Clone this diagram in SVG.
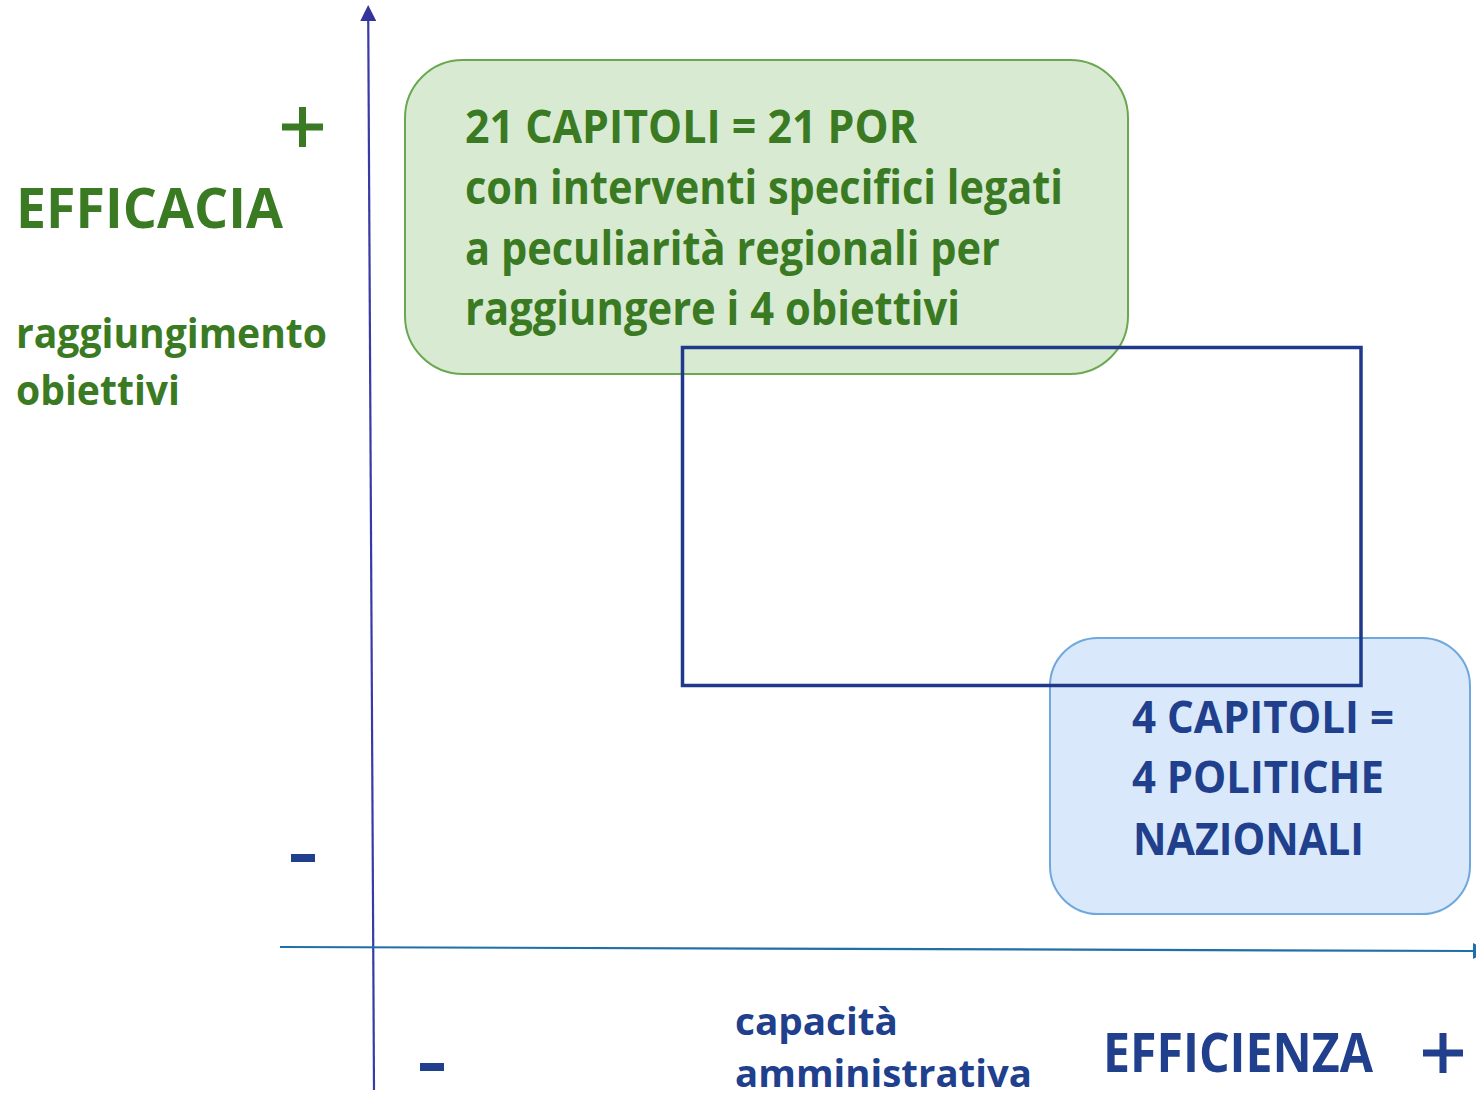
<svg xmlns="http://www.w3.org/2000/svg" width="1476" height="1098" viewBox="0 0 1476 1098">
<defs>
<style>
.t{font-family:"Open Sans","Noto Sans","Liberation Sans",sans-serif;font-weight:bold}
.g{fill:#3a7a22}
.b{fill:#203f8c}
</style>
<marker id="arrUp" viewBox="0 0 16 16" refX="8" refY="8" markerWidth="16" markerHeight="16" markerUnits="userSpaceOnUse" orient="auto">
<path d="M0,0 L16,8 L0,16 Z" fill="#34349c"/>
</marker>
</defs>
<rect width="1476" height="1098" fill="#ffffff"/>

<g id="connectors">
<line id="y-axis" x1="374" y1="1090" x2="368.2" y2="13" stroke="#3a3aa6" stroke-width="2.2" marker-end="url(#arrUp)"/>
<line id="x-axis" x1="280" y1="947" x2="1474" y2="951" stroke="#1f6fa8" stroke-width="2.2"/>
<polygon points="1473,943 1490,951 1473,959" fill="#1f6fa8"/>
</g>

<g id="node-regional">
<rect x="405" y="60" width="723" height="314" rx="58" ry="58" fill="#d9ead3" stroke="#6aa84f" stroke-width="2"/>
<text class="t g" font-size="47" x="465" y="143" textLength="452" lengthAdjust="spacingAndGlyphs">21 CAPITOLI = 21 POR</text>
<text class="t g" font-size="47" x="465" y="204" textLength="598" lengthAdjust="spacingAndGlyphs">con interventi specifici legati</text>
<text class="t g" font-size="47" x="465" y="265" textLength="535" lengthAdjust="spacingAndGlyphs">a peculiarità regionali per</text>
<text class="t g" font-size="47" x="465" y="325" textLength="495" lengthAdjust="spacingAndGlyphs">raggiungere i 4 obiettivi</text>
</g>

<g id="node-national">
<rect x="1050" y="638" width="420" height="276" rx="48" ry="48" fill="#dae8fc" stroke="#6fa8dc" stroke-width="2"/>
<text class="t b" font-size="45" x="1132" y="733" textLength="262" lengthAdjust="spacingAndGlyphs">4 CAPITOLI =</text>
<text class="t b" font-size="45" x="1132" y="793" textLength="252" lengthAdjust="spacingAndGlyphs">4 POLITICHE</text>
<text class="t b" font-size="45" x="1133" y="855" textLength="231" lengthAdjust="spacingAndGlyphs">NAZIONALI</text>
</g>

<g id="node-overlap">
<rect x="682.5" y="347.5" width="678.5" height="338" fill="none" stroke="#1f3a8a" stroke-width="3.5"/>
</g>

<g id="label-efficacia">
<text class="t g" font-size="55" x="16" y="228" textLength="267" lengthAdjust="spacingAndGlyphs">EFFICACIA</text>
<text class="t g" font-size="41" x="16" y="348" textLength="311" lengthAdjust="spacingAndGlyphs">raggiungimento</text>
<text class="t g" font-size="41" x="16" y="405" textLength="164" lengthAdjust="spacingAndGlyphs">obiettivi</text>
</g>

<g id="plus-green">
<rect x="282" y="123.5" width="41" height="7" fill="#3a7a22"/>
<rect x="299" y="107" width="7" height="40" fill="#3a7a22"/>
</g>
<g id="minus-left">
<rect x="291" y="854" width="24" height="8" fill="#203f8c"/>
</g>
<g id="minus-bottom">
<rect x="420" y="1063" width="24" height="8" fill="#203f8c"/>
</g>

<g id="label-efficienza">
<text class="t b" font-size="38" x="735" y="1035" textLength="163" lengthAdjust="spacingAndGlyphs">capacità</text>
<text class="t b" font-size="38" x="735" y="1087" textLength="297" lengthAdjust="spacingAndGlyphs">amministrativa</text>
<text class="t b" font-size="53" x="1103" y="1072" textLength="270" lengthAdjust="spacingAndGlyphs">EFFICIENZA</text>
</g>
<g id="plus-blue">
<rect x="1423" y="1049.5" width="40" height="7" fill="#203f8c"/>
<rect x="1439.5" y="1033" width="7" height="40" fill="#203f8c"/>
</g>
</svg>
